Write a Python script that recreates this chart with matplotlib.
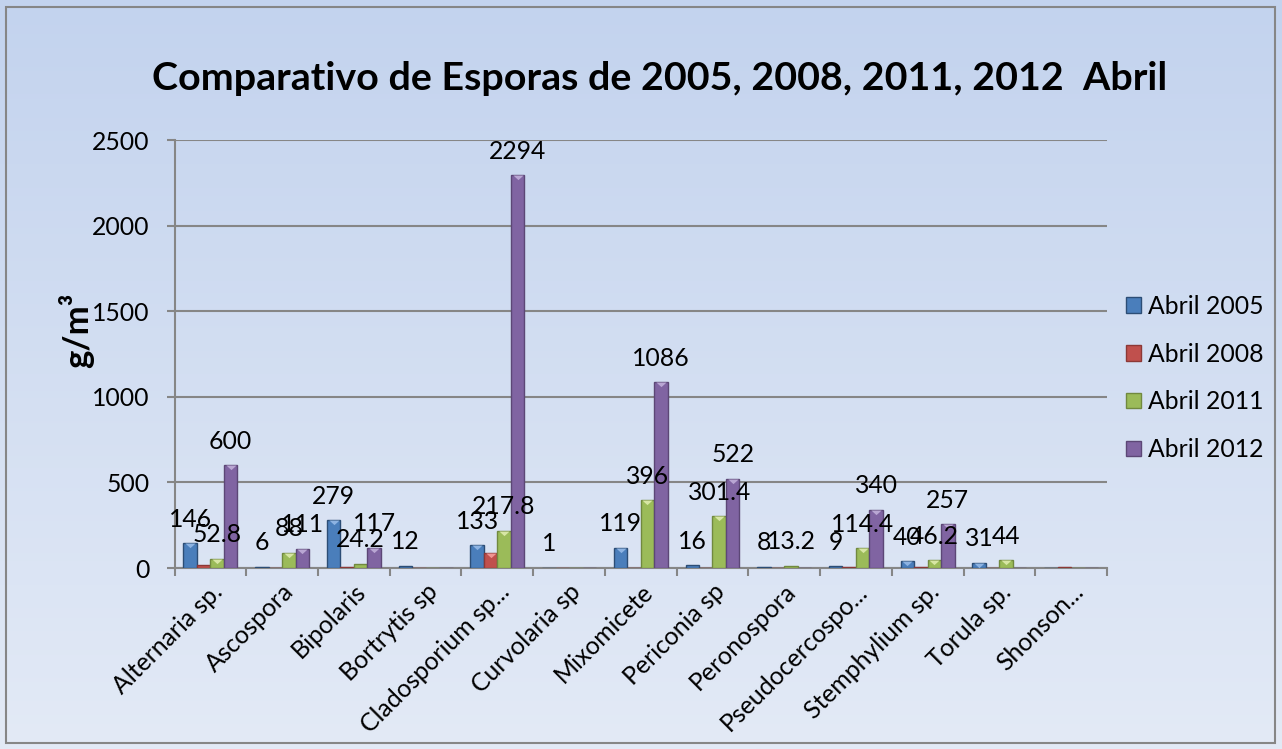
import numpy as np
import matplotlib.pyplot as plt
from matplotlib.patches import Rectangle, Patch
from matplotlib.path import Path

plt.rcParams['font.family'] = ['Lato', 'DejaVu Sans']

# Datos (g/m3) - celdas vacias como NaN
especies = ['Alternaria sp.', 'Ascospora', 'Bipolaris', 'Bortrytis sp',
            'Cladosporium sp...', 'Curvolaria sp', 'Mixomicete', 'Periconia sp',
            'Peronospora', 'Pseudocercospo...', 'Stemphylium sp.', 'Torula sp.',
            'Shonson...']
nan = np.nan
abril_2005 = [146, 6, 279, 12, 133, 1, 119, 16, 8, 9, 40, 31, nan]
abril_2008 = [15, nan, 8, nan, 85, nan, 2, nan, nan, 3, 3, nan, 3]
abril_2011 = [52.8, 88, 24.2, nan, 217.8, nan, 396, 301.4, 13.2, 114.4, 46.2, 44, nan]
abril_2012 = [600, 111, 117, nan, 2294, nan, 1086, 522, nan, 340, 257, nan, nan]

series = ['Abril 2005', 'Abril 2008', 'Abril 2011', 'Abril 2012']
valores = [abril_2005, abril_2008, abril_2011, abril_2012]
colores = ['#4A7EBB', '#C0504D', '#9BBB59', '#8064A2']
bordes = ['#2C4D75', '#8C3836', '#71893F', '#5C4776']
claros = ['#8DB3E2', '#F09593', '#D7E6A4', '#B9A6D3']
con_etiqueta = [True, False, True, True]

FS = 17.8

fig = plt.figure(figsize=(12.82, 7.49), dpi=100)

# fondo degradado
bg = fig.add_axes([0, 0, 1, 1], zorder=-2)
grad = np.linspace(0, 1, 256).reshape(-1, 1)
c1 = np.array([0xC3, 0xD3, 0xEE]) / 255
c2 = np.array([0xE3, 0xEA, 0xF6]) / 255
img = c1 + (c2 - c1) * grad[:, :, None]
bg.imshow(img, aspect='auto', extent=[0, 1, 0, 1])
bg.axis('off')
fig.patches.append(Rectangle((6 / 1282, 6 / 749), 1 - 13 / 1282, 1 - 13 / 749,
                             transform=fig.transFigure, fill=False,
                             edgecolor='#868686', lw=1.5))

ax = fig.add_axes([174.5 / 1282, 1 - 568 / 749, (1107 - 174.5) / 1282, (568 - 140) / 749])
ax.set_facecolor('none')

# triangulo claro en la parte superior de cada barra (efecto bisel)
bisel = Path([(-1, 0), (1, 0), (0, -0.9), (-1, 0)])

x = np.arange(len(especies))
w = 0.188
for i, (nombre, vals) in enumerate(zip(series, valores)):
    pos = x + (i - 1.5) * w
    v = np.array(vals, dtype=float)
    ax.bar(pos, np.nan_to_num(v), w, color=colores[i], edgecolor=bordes[i],
           linewidth=1, zorder=3, label=nombre)
    m = v >= 25
    ax.scatter(pos[m], v[m], marker=bisel, s=55, color=claros[i],
               linewidths=0, zorder=4)
    if con_etiqueta[i]:
        for xp, val in zip(pos, v):
            if not np.isnan(val):
                ax.annotate(f'{val:g}', (xp, val), xytext=(0, 9),
                            textcoords='offset points', ha='center',
                            va='bottom', fontsize=FS, zorder=5)

ax.set_xlim(-0.5, len(especies) - 0.5)
ax.set_ylim(0, 2500)
ax.set_yticks(range(0, 2501, 500))
ax.grid(axis='y', color='#868686', linewidth=1.5, zorder=1)
ax.tick_params(axis='y', labelsize=FS, length=6, width=1.5, color='#868686', pad=12)
ax.set_xticks(x)
ax.set_xticklabels(especies, rotation=45, ha='right', va='top',
                   rotation_mode='anchor', fontsize=FS)
ax.tick_params(axis='x', length=0, pad=8.5)
ax.set_xticks(np.arange(-0.5, len(especies), 1), minor=True)
ax.tick_params(axis='x', which='minor', length=6, width=1.5, color='#868686')
for s in ['top', 'right']:
    ax.spines[s].set_visible(False)
for s in ['left', 'bottom']:
    ax.spines[s].set_color('#868686')
    ax.spines[s].set_linewidth(1.5)

fig.text(660 / 1282, 1 - 78 / 749, 'Comparativo de Esporas de 2005, 2008, 2011, 2012  Abril',
         ha='center', va='center', fontsize=28.4, fontweight='bold')
fig.text(76 / 1282, 1 - 330 / 749, 'g/m³', rotation=90, ha='center', va='center',
         fontsize=25, fontweight='bold')

handles = [Patch(facecolor=c, edgecolor=b) for c, b in zip(colores, bordes)]
fig.legend(handles, series, loc='center left', bbox_to_anchor=(1126 / 1282, 1 - 378 / 749),
           frameon=False, fontsize=FS, handlelength=0.6, handleheight=0.6,
           handletextpad=0.3, labelspacing=1.0, borderpad=0, borderaxespad=0)

plt.savefig('out.png', dpi=100)
